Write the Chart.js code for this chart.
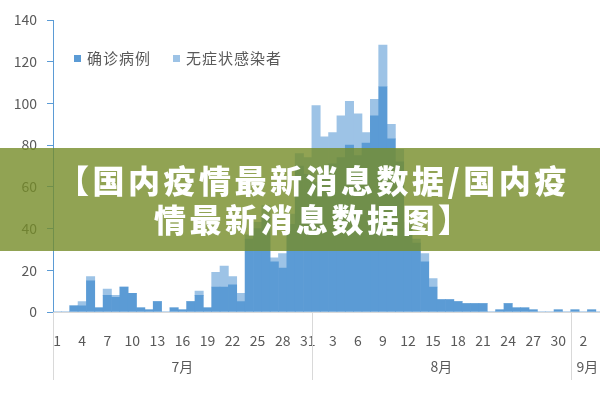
<!DOCTYPE html>
<html>
<head>
<meta charset="utf-8">
<script src="https://cdn.jsdelivr.net/npm/chart.js@4.4.0/dist/chart.umd.min.js"></script>
<style>
    html, body { margin: 0; padding: 0; background: #fff; overflow: hidden; }
    #wrap { position: relative; width: 612px; height: 400px; }
    .legend-item {
        position: absolute; top: 47px; color: #595959; white-space: nowrap;
        font: 15px 'Noto Sans CJK SC', sans-serif; letter-spacing: 1px;
    }
    .legend-item i {
        display: inline-block; width: 7px; height: 7px; margin-right: 6px;
        vertical-align: middle; position: relative; top: -1px;
    }
    #banner {
        position: absolute; left: 0; top: 148px; width: 600px; height: 103px;
        background: rgba(118, 140, 40, 0.8); color: #fff;
        font: 900 32px 'Noto Sans CJK SC', sans-serif; letter-spacing: 3.5px;
        line-height: 39px; white-space: nowrap;
    }
    #banner div { position: absolute; }
</style>
</head>
<body>
<div id="wrap">
    <canvas id="casesChart" width="612" height="400"></canvas>
    <div class="legend-item" style="left:74px"><i style="background:#5b9bd5"></i>确诊病例</div>
    <div class="legend-item" style="left:173px"><i style="background:#9dc3e6"></i>无症状感染者</div>
    <div id="banner">
        <div style="left:57px; top:12px">【国内疫情最新消息数据/国内疫</div>
        <div style="left:154px; top:51px">情最新消息数据图】</div>
    </div>
</div>
<script>
// ===== datos =====
const monthNames = ['7月', '8月', '9月'];
const monthLengths = [31, 31, 4];

const dayLabels = [
    '1', '2', '3', '4', '5', '6', '7', '8', '9', '10', '11', '12', '13', '14', '15', '16',
    '17', '18', '19', '20', '21', '22', '23', '24', '25', '26', '27', '28', '29', '30', '31',
    '1', '2', '3', '4', '5', '6', '7', '8', '9', '10', '11', '12', '13', '14', '15', '16',
    '17', '18', '19', '20', '21', '22', '23', '24', '25', '26', '27', '28', '29', '30', '31',
    '1', '2', '3', '4'
];

// 确诊病例
const confirmedCases = [
    0, 0, 3, 3, 15, 2, 8, 7, 12, 9, 2, 1, 5, 0, 2, 1,
    5, 8, 2, 12, 12, 13, 5, 35, 40, 45, 24, 21, 42, 70, 66,
    62, 66, 71, 74, 80, 75, 81, 94, 108, 83, 72, 40, 33, 24, 12, 6,
    6, 5, 4, 4, 4, 0, 1, 4, 2, 2, 1, 0, 0, 1, 0,
    1, 0, 1, 0
];

// 无症状感染者
const asymptomaticCases = [
    0, 0, 0, 2, 2, 0, 3, 1, 0, 0, 0, 0, 0, 0, 0, 0,
    0, 2, 0, 7, 10, 4, 4, 2, 3, 6, 2, 7, 5, 6, 8,
    37, 18, 15, 20, 21, 20, 5, 8, 20, 7, 6, 3, 2, 4, 4, 0,
    0, 0, 0, 0, 0, 0, 0, 0, 0, 0, 0, 0, 0, 0, 0,
    0, 0, 0, 0
];

const yTicks = { min: 0, max: 140, step: 20 };

const FONT = "'Noto Sans CJK SC', 'Noto Sans', sans-serif";
const TEXT_COLOR = '#595959';

// Fila de meses debajo de los días, con separadores
const monthRowPlugin = {
    id: 'monthRow',
    afterDraw(chart) {
        const x = chart.scales.x;
        const ctx = chart.ctx;
        const half = (x.getPixelForValue(1) - x.getPixelForValue(0)) / 2;
        let start = 0;

        ctx.save();
        ctx.strokeStyle = '#d9d9d9';
        ctx.lineWidth = 1;
        ctx.fillStyle = TEXT_COLOR;
        ctx.font = `14px ${FONT}`;
        ctx.textAlign = 'center';
        ctx.textBaseline = 'middle';

        monthNames.forEach((name, i) => {
            const end = start + monthLengths[i] - 1;
            const left = x.getPixelForValue(start) - half;
            const right = x.getPixelForValue(end) + half;

            const lx = Math.round(left) + 0.5;
            ctx.beginPath();
            ctx.moveTo(lx, x.top);
            ctx.lineTo(lx, 380);
            ctx.stroke();

            ctx.fillText(name, (left + right) / 2, 367);
            start = end + 1;
        });
        ctx.restore();
    }
};

const ctx = document.getElementById('casesChart').getContext('2d');
new Chart(ctx, {
    type: 'bar',
    data: {
        labels: dayLabels,
        datasets: [{
            label: '确诊病例',
            data: confirmedCases,
            backgroundColor: '#5b9bd5',
            borderWidth: 0,
            barPercentage: 1,
            categoryPercentage: 1
        }, {
            label: '无症状感染者',
            data: asymptomaticCases,
            backgroundColor: '#9dc3e6',
            borderWidth: 0,
            barPercentage: 1,
            categoryPercentage: 1
        }]
    },
    options: {
        responsive: false,
        animation: false,
        layout: { padding: { top: 20, right: 0, bottom: 0, left: 0 } },
        plugins: {
            legend: { display: false },
            tooltip: { enabled: false }
        },
        scales: {
            x: {
                stacked: true,
                grid: { display: false },
                border: { display: true, color: '#d9d9d9' },
                ticks: {
                    autoSkip: false,
                    maxRotation: 0,
                    padding: 12,
                    color: TEXT_COLOR,
                    font: { size: 14, family: FONT },
                    callback: (value, index) => index % 3 === 0 ? dayLabels[index] : ''
                },
                afterFit(scale) { scale.height = 88; }
            },
            y: {
                stacked: true,
                min: yTicks.min,
                max: yTicks.max,
                grid: { drawOnChartArea: false, drawTicks: true, tickLength: 6, color: '#5b9bd5' },
                border: { color: '#5b9bd5' },
                ticks: {
                    stepSize: yTicks.step,
                    padding: 10,
                    color: TEXT_COLOR,
                    font: { size: 14, family: FONT }
                },
                afterFit(scale) { scale.width = 53; }
            }
        }
    },
    plugins: [monthRowPlugin]
});
</script>
</body>
</html>
